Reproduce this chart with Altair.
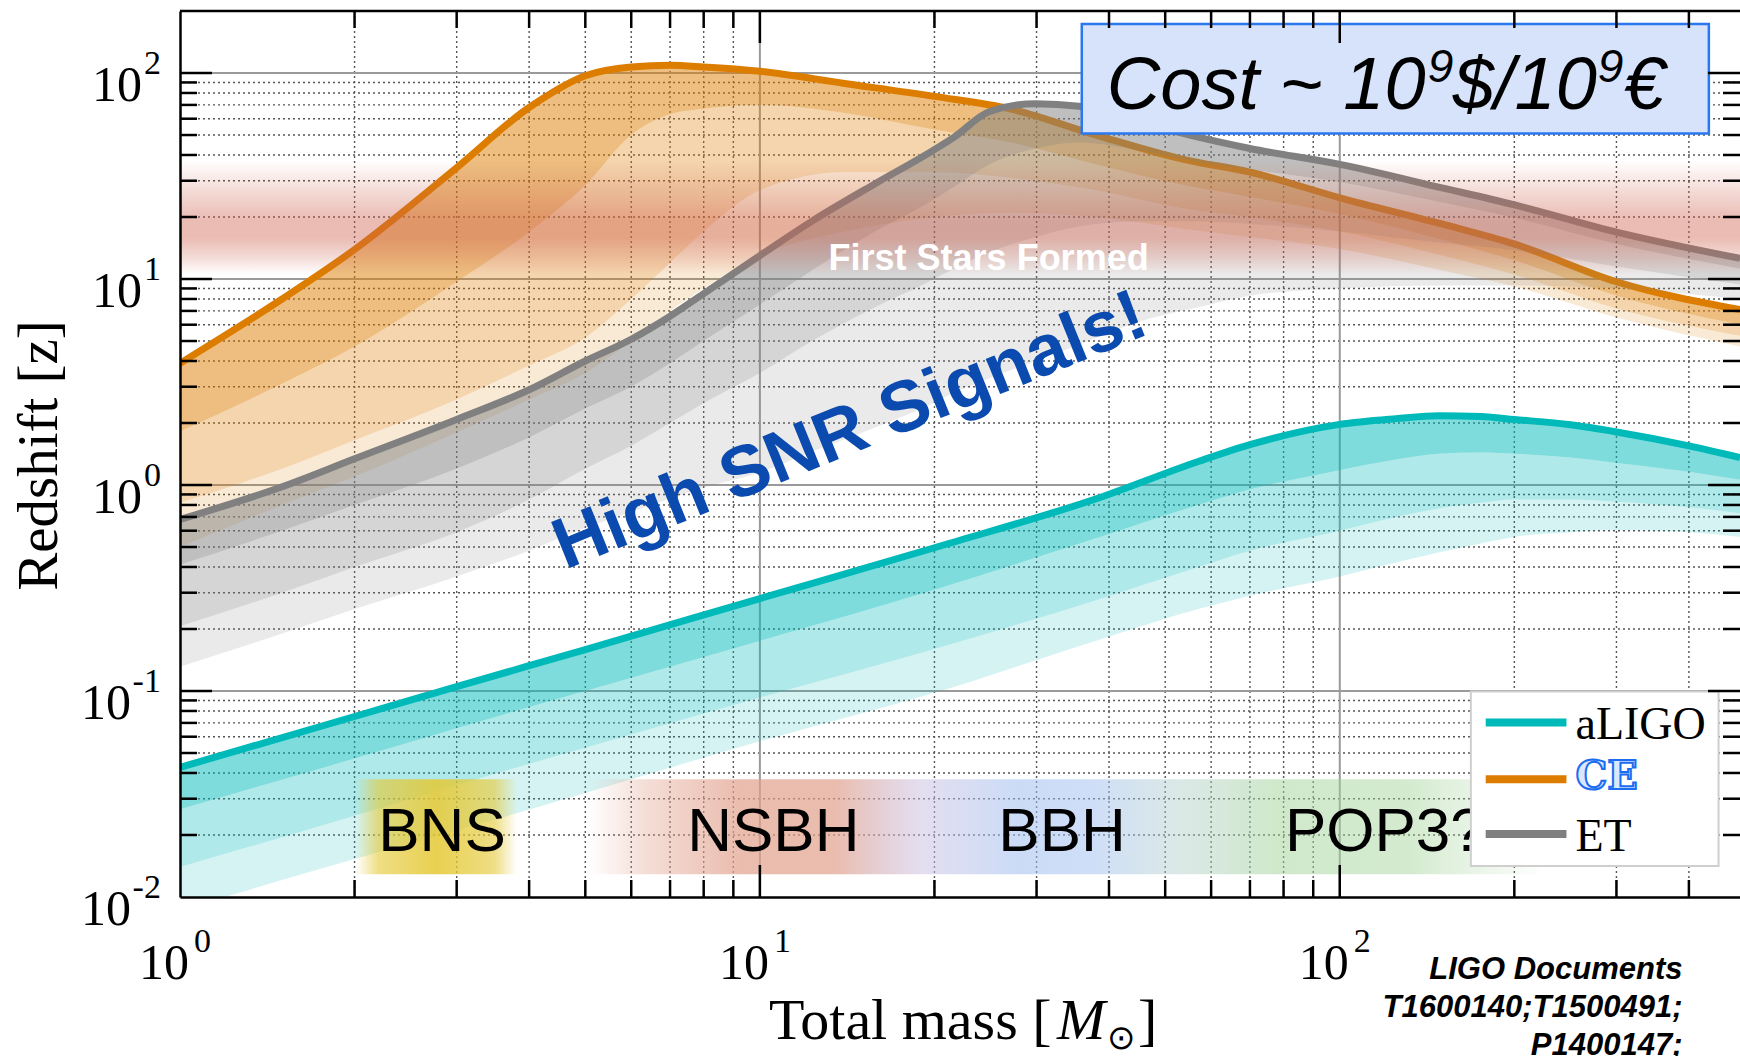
import altair as alt
import pandas as pd

# ---------------- axis ranges ----------------
MASS_RANGE = [1, 490]
Z_RANGE = [0.01, 200]

# ---------------- Cosmic Explorer (CE) ----------------
CE_MASS = [1, 1.5, 2, 3, 4, 5, 6, 7, 8, 10, 14, 20, 27, 38, 54, 70, 100, 150, 200, 300, 490]
CE_LINE = [3.9, 8.0, 13.9, 34.7, 68, 97, 107, 109, 107, 102, 89, 77, 67, 50, 38, 33, 24.8, 18.5, 14.8, 9.7, 7.1]
CE_B1 = [1.82, 3.1, 4.7, 9.7, 16.9, 28.5, 50, 63, 67, 70, 64, 53, 46, 36, 28.5, 25, 20.7, 15.5, 12.3, 8.3, 6.0]
CE_B2 = [0.82, 1.2, 1.65, 2.6, 3.8, 5.2, 8, 12, 17, 27, 33, 33, 31, 27, 22, 20, 17, 13, 10.5, 7.2, 5.3]
CE_B3 = [0.5, 0.8, 1.1, 1.8, 2.6, 3.5, 5, 7, 9, 13, 17, 20, 21, 20, 17.5, 16, 14, 11, 9.2, 6.5, 4.7]

# ---------------- Einstein Telescope (ET) ----------------
ET_MASS = [1, 1.5, 2, 3, 4, 5, 6, 7, 8, 10, 12.3, 15.8, 19.3, 21.6, 24.9, 29.9, 35.5, 45, 57, 70, 100, 150, 200, 300, 490]
ET_LINE = [0.68, 0.98, 1.34, 2.08, 2.9, 4.0, 5.1, 6.6, 8.5, 13.0, 19.1, 29, 40, 48.7, 65, 71, 69, 58, 48.8, 43, 36, 27.7, 22.9, 16.9, 12.6]
ET_B1 = [0.41, 0.6, 0.8, 1.2, 1.7, 2.35, 3.0, 3.9, 5.0, 7.5, 11, 17, 23, 28, 36, 43, 46, 42, 37, 34, 29.5, 23.5, 19.8, 14.8, 11.2]
ET_B2 = [0.206, 0.30, 0.40, 0.59, 0.85, 1.2, 1.55, 2.0, 2.5, 3.5, 5.0, 7.3, 9.5, 11.2, 13.5, 16, 18, 19, 19, 18.5, 17, 15, 13.8, 11.5, 9.4]
ET_B3 = [0.131, 0.19, 0.25, 0.36, 0.48, 0.62, 0.74, 0.86, 0.97, 1.15, 1.45, 1.9, 2.4, 2.8, 3.3, 4.0, 4.8, 6.2, 7.3, 8.3, 9.0, 9.3, 9.3, 9.0, 8.0]

# ---------------- Advanced LIGO ----------------
LIGO_MASS = [1, 2, 3, 5, 10, 20, 38.6, 57, 70, 100, 125, 148, 175, 200, 250, 300, 400, 490]
LIGO_LINE = [0.0426, 0.0752, 0.105, 0.159, 0.281, 0.496, 0.87, 1.3, 1.57, 1.97, 2.1, 2.17, 2.15, 2.08, 1.96, 1.81, 1.55, 1.36]
LIGO_B1 = [0.0267, 0.047, 0.066, 0.1, 0.175, 0.31, 0.56, 0.8, 0.95, 1.18, 1.33, 1.42, 1.44, 1.42, 1.36, 1.28, 1.16, 1.06]
LIGO_B2 = [0.014, 0.0248, 0.035, 0.053, 0.093, 0.16, 0.28, 0.4, 0.48, 0.6, 0.7, 0.77, 0.82, 0.85, 0.85, 0.83, 0.78, 0.73]
LIGO_B3 = [0.0086, 0.0153, 0.021, 0.032, 0.057, 0.098, 0.178, 0.25, 0.29, 0.36, 0.42, 0.47, 0.52, 0.56, 0.59, 0.605, 0.59, 0.56]

# ---------------- ticks / grid / tick labels ----------------
X_LABEL_VALUES = [1, 10, 100]
X_LABEL_EXP = ["0", "1", "2"]
Y_LABEL_VALUES = [0.01, 0.1, 1, 10, 100]
Y_LABEL_EXP = ["-2", "-1", "0", "1", "2"]
X_MAJOR = [10, 100]
X_MINOR = [2, 3, 4, 5, 6, 7, 8, 9, 20, 30, 40, 50, 60, 70, 80, 90, 200, 300, 400]
Y_MAJOR = [0.1, 1, 10, 100]
Y_MINOR = [0.02, 0.03, 0.04, 0.05, 0.06, 0.07, 0.08, 0.09,
           0.2, 0.3, 0.4, 0.5, 0.6, 0.7, 0.8, 0.9,
           2, 3, 4, 5, 6, 7, 8, 9,
           20, 30, 40, 50, 60, 70, 80, 90]
# label anchor positions (data coordinates, outside the plotted range)
X_LABEL_Z = 0.0040        # baseline of the "10"
X_EXP_Z = 0.0054          # baseline of the exponent
Y_LABEL_M_POS = 0.860     # right edge of "10" (positive exponents)
Y_LABEL_M_NEG = 0.823     # right edge of "10" (negative exponents)
Y_EXP_M = 0.927           # right edge of exponent
X_TITLE_POS = [10.364, 0.00205]
Y_TITLE = "Redshift [z]"

# ---------------- annotations ----------------
STARS_Z = [10.5, 37.6]
STARS_TEXT = "First Stars Formed"
STARS_TEXT_POS = [24.8, 11.0]
SNR_TEXT = "High SNR Signals!"
SNR_TEXT_POS = [14.3, 1.83]
COST_BOX = [35.9, 433, 50.8, 173]
COST_TEXT_POS = [39.65, 67.2]
CAT_NAMES = ["BNS", "NSBH", "BBH", "POP3?"]
CAT_MASS = [2.83, 10.55, 33.2, 119.6]
CAT_TEXT_Z = 0.0168
CAT_BAND_Z = [0.0129, 0.0373]
BNS_BAND_M = [2.01, 3.81]
OTHER_BAND_M = [5.05, 225]
REF_LINES = ["LIGO Documents", "T1600140;T1500491;", "P1400147;"]
REF_Z = [0.0040, 0.00262, 0.00171]
REF_M = 390
LEGEND_NAMES = ["aLIGO", "CE", "ET"]
LEGEND_LINE_Z = [0.0704, 0.0373, 0.0202]
LEGEND_TEXT_Z = [0.0582, 0.0333, 0.01667]
LEGEND_LINE_M = [178.5, 246]
LEGEND_TEXT_M = 255
LEGEND_BOX = [168.3, 450, 0.01413, 0.0994]

# ---------------- style ----------------
W, H = 1560, 886
SERIF = "Liberation Serif"
SANS = "Liberation Sans"
C_LIGO = "#00b9b9"
C_CE = "#dc7d00"
C_ET = "#808080"

xs = alt.Scale(type="log", domain=MASS_RANGE, nice=False)
ys = alt.Scale(type="log", domain=Z_RANGE, nice=False)

x_axis = alt.Axis(labels=False, ticks=False, grid=False, domain=True, domainColor="black",
                  domainWidth=2.5, title=None, zindex=2)
y_axis = alt.Axis(labels=False, ticks=False, grid=False, domain=True, domainColor="black",
                  domainWidth=2.5, title=Y_TITLE, titleFont=SERIF, titleFontSize=57,
                  titleFontWeight="normal", titleColor="black", titleAngle=270,
                  titleX=-124, titleY=444, titleAlign="center", titleBaseline="alphabetic", zindex=2)


def X(f):
    return alt.X(f, type="quantitative", scale=xs, axis=x_axis)


def Y(f):
    return alt.Y(f, type="quantitative", scale=ys, axis=y_axis)


def one_text(text, m, z, **style):
    df = pd.DataFrame({"t": [text], "M": [m], "z": [z]})
    return alt.Chart(df).mark_text(**style).encode(x=X("M"), y=Y("z"), text="t:N")


layers = []

# grid
layers.append(alt.Chart(pd.DataFrame({"M": X_MINOR})).mark_rule(
    color="#555555", strokeWidth=1.4, strokeDash=[2, 3]).encode(x=X("M")))
layers.append(alt.Chart(pd.DataFrame({"z": Y_MINOR})).mark_rule(
    color="#555555", strokeWidth=1.4, strokeDash=[2, 3]).encode(y=Y("z")))
layers.append(alt.Chart(pd.DataFrame({"M": X_MAJOR})).mark_rule(
    color="#9a9a9a", strokeWidth=2).encode(x=X("M")))
layers.append(alt.Chart(pd.DataFrame({"z": Y_MAJOR})).mark_rule(
    color="#9a9a9a", strokeWidth=2).encode(y=Y("z")))


def detector(mass, levels, color, opacities):
    out = []
    for k, op in enumerate(opacities):
        df = pd.DataFrame({"M": mass, "hi": levels[k], "lo": levels[k + 1]})
        out.append(alt.Chart(df).mark_area(color=color, opacity=op, interpolate="monotone", clip=True)
                   .encode(x=X("M"), y=Y("lo"), y2="hi:Q"))
    df = pd.DataFrame({"M": mass, "z": levels[0]})
    out.append(alt.Chart(df).mark_line(color=color, strokeWidth=7, interpolate="monotone", clip=True)
               .encode(x=X("M"), y=Y("z")))
    return out


layers += detector(CE_MASS, [CE_LINE, CE_B1, CE_B2, CE_B3], C_CE, [0.5, 0.32, 0.16])
layers += detector(ET_MASS, [ET_LINE, ET_B1, ET_B2, ET_B3], C_ET, [0.5, 0.33, 0.17])
layers += detector(LIGO_MASS, [LIGO_LINE, LIGO_B1, LIGO_B2, LIGO_B3], C_LIGO, [0.5, 0.31, 0.165])

# first-stars band
stars_grad = alt.LinearGradient(gradient="linear", x1=0, x2=0, y1=0, y2=1, stops=[
    alt.GradientStop(color="rgba(205,95,75,0)", offset=0),
    alt.GradientStop(color="rgba(205,95,75,0.25)", offset=0.3),
    alt.GradientStop(color="rgba(205,95,75,0.42)", offset=0.52),
    alt.GradientStop(color="rgba(205,95,75,0.42)", offset=0.68),
    alt.GradientStop(color="rgba(205,95,75,0.22)", offset=0.85),
    alt.GradientStop(color="rgba(205,95,75,0)", offset=1)])
stars_df = pd.DataFrame({"m0": [MASS_RANGE[0]], "m1": [MASS_RANGE[1]], "z0": [STARS_Z[0]], "z1": [STARS_Z[1]]})
layers.append(alt.Chart(stars_df).mark_rect(color=stars_grad, clip=True).encode(
    x=X("m0"), x2="m1:Q", y=Y("z0"), y2="z1:Q"))

# category backgrounds
bns_grad = alt.LinearGradient(gradient="linear", x1=0, x2=1, y1=0, y2=0, stops=[
    alt.GradientStop(color="rgba(228,200,50,0)", offset=0),
    alt.GradientStop(color="rgba(228,200,50,0.6)", offset=0.14),
    alt.GradientStop(color="rgba(228,200,50,0.85)", offset=0.5),
    alt.GradientStop(color="rgba(228,200,50,0.6)", offset=0.86),
    alt.GradientStop(color="rgba(228,200,50,0)", offset=1)])
other_grad = alt.LinearGradient(gradient="linear", x1=0, x2=1, y1=0, y2=0, stops=[
    alt.GradientStop(color="rgba(225,160,140,0)", offset=0),
    alt.GradientStop(color="rgba(225,160,140,0.35)", offset=0.06),
    alt.GradientStop(color="rgba(225,160,140,0.7)", offset=0.16),
    alt.GradientStop(color="rgba(225,160,140,0.7)", offset=0.26),
    alt.GradientStop(color="rgba(200,190,225,0.5)", offset=0.35),
    alt.GradientStop(color="rgba(160,190,240,0.55)", offset=0.45),
    alt.GradientStop(color="rgba(160,190,240,0.5)", offset=0.53),
    alt.GradientStop(color="rgba(175,205,200,0.45)", offset=0.62),
    alt.GradientStop(color="rgba(160,210,150,0.5)", offset=0.72),
    alt.GradientStop(color="rgba(160,210,150,0.45)", offset=0.86),
    alt.GradientStop(color="rgba(160,210,150,0)", offset=1)])
for band_m, grad in [(BNS_BAND_M, bns_grad), (OTHER_BAND_M, other_grad)]:
    df = pd.DataFrame({"m0": [band_m[0]], "m1": [band_m[1]], "z0": [CAT_BAND_Z[0]], "z1": [CAT_BAND_Z[1]]})
    layers.append(alt.Chart(df).mark_rect(color=grad).encode(x=X("m0"), x2="m1:Q", y=Y("z0"), y2="z1:Q"))

cat_df = pd.DataFrame({"name": CAT_NAMES, "M": CAT_MASS, "z": [CAT_TEXT_Z] * len(CAT_NAMES)})
layers.append(alt.Chart(cat_df).mark_text(font=SANS, fontSize=62, color="black", align="center",
                                          baseline="alphabetic").encode(x=X("M"), y=Y("z"), text="name:N"))

# texts
layers.append(one_text(STARS_TEXT, *STARS_TEXT_POS, font=SANS, fontSize=36, fontWeight="bold",
                       color="white", align="center", baseline="alphabetic"))
layers.append(one_text(SNR_TEXT, *SNR_TEXT_POS, font=SANS, fontSize=72, fontWeight="bold",
                       color="#0b4aae", align="center", baseline="middle", angle=338))

# cost box
cost_df = pd.DataFrame({"m0": [COST_BOX[0]], "m1": [COST_BOX[1]], "z0": [COST_BOX[2]], "z1": [COST_BOX[3]]})
layers.append(alt.Chart(cost_df).mark_rect(fill="#d7e3fa", stroke="#2a78f0", strokeWidth=2.5)
              .encode(x=X("m0"), x2="m1:Q", y=Y("z0"), y2="z1:Q"))
cost_pieces = [("Cost ~ 10", 0, 0, 74), ("9", 321, -27, 46), ("$/10", 346, 0, 74),
               ("9", 491, -27, 46), ("€", 517, 0, 74)]
for txt, dx, dy, fs in cost_pieces:
    layers.append(one_text(txt, *COST_TEXT_POS, font=SANS, fontSize=fs, fontStyle="italic",
                           color="black", align="left", baseline="alphabetic", dx=dx, dy=dy))

# tick labels: 10 with raised exponent
xl = pd.DataFrame({"M": X_LABEL_VALUES, "e": X_LABEL_EXP, "z10": [X_LABEL_Z] * 3, "ze": [X_EXP_Z] * 3})
layers.append(alt.Chart(xl).mark_text(text="10", font=SERIF, fontSize=50, color="black", align="right",
                                      baseline="alphabetic", dx=9).encode(x=X("M"), y=Y("z10")))
layers.append(alt.Chart(xl).mark_text(font=SERIF, fontSize=34, color="black", align="left",
                                      baseline="alphabetic", dx=14).encode(x=X("M"), y=Y("ze"), text="e:N"))
yl = pd.DataFrame({"z": Y_LABEL_VALUES, "e": Y_LABEL_EXP,
                   "m10": [Y_LABEL_M_NEG if e.startswith("-") else Y_LABEL_M_POS for e in Y_LABEL_EXP],
                   "me": [Y_EXP_M] * 5})
layers.append(alt.Chart(yl).mark_text(text="10", font=SERIF, fontSize=50, color="black", align="right",
                                      baseline="alphabetic", dy=28).encode(x=X("m10"), y=Y("z")))
layers.append(alt.Chart(yl).mark_text(font=SERIF, fontSize=34, color="black", align="right",
                                      baseline="alphabetic", dy=1).encode(x=X("me"), y=Y("z"), text="e:N"))

# x-axis title: Total mass [M_sun]
title_pieces = [("Total mass [", 0, 0, 58, "normal"), ("M", 288, 0, 58, "italic"),
                ("⊙", 338, 10, 34, "normal"), ("]", 369, 0, 58, "normal")]
for txt, dx, dy, fs, st in title_pieces:
    layers.append(one_text(txt, *X_TITLE_POS, font=SERIF, fontSize=fs, fontStyle=st, color="black",
                           align="left", baseline="alphabetic", dx=dx, dy=dy))

# references text (below axis)
ref_df = pd.DataFrame({"t": REF_LINES, "M": [REF_M] * 3, "z": REF_Z})
layers.append(alt.Chart(ref_df).mark_text(font=SANS, fontSize=31, fontWeight="bold", fontStyle="italic",
                                          color="black", align="right", baseline="alphabetic")
              .encode(x=X("M"), y=Y("z"), text="t:N"))

# legend
leg_box = pd.DataFrame({"m0": [LEGEND_BOX[0]], "m1": [LEGEND_BOX[1]], "z0": [LEGEND_BOX[2]], "z1": [LEGEND_BOX[3]]})
layers.append(alt.Chart(leg_box).mark_rect(fill="white", stroke="#cfcfcf", strokeWidth=2)
              .encode(x=X("m0"), x2="m1:Q", y=Y("z0"), y2="z1:Q"))
for name, lz, tz, col in zip(LEGEND_NAMES, LEGEND_LINE_Z, LEGEND_TEXT_Z, [C_LIGO, C_CE, C_ET]):
    ldf = pd.DataFrame({"m0": [LEGEND_LINE_M[0]], "m1": [LEGEND_LINE_M[1]], "z": [lz]})
    layers.append(alt.Chart(ldf).mark_rule(color=col, strokeWidth=8)
                  .encode(x=X("m0"), x2="m1:Q", y=Y("z")))
    if name == "CE":
        layers.append(one_text(name, LEGEND_TEXT_M, tz, font="DejaVu Serif", fontSize=40, fontWeight="bold",
                               fill="#dbe6ff", stroke="#1a6cf0", strokeWidth=2, align="left",
                               baseline="alphabetic"))
    else:
        layers.append(one_text(name, LEGEND_TEXT_M, tz, font=SERIF, fontSize=46, color="black",
                               align="left", baseline="alphabetic"))


# inward ticks and frame
def xticks(values, length):
    df = pd.DataFrame({"M": values})
    base = alt.Chart(df).mark_rule(color="black", strokeWidth=2.5)
    return [base.encode(x=X("M"), y=alt.value(H), y2=alt.value(H - length)),
            base.encode(x=X("M"), y=alt.value(0), y2=alt.value(length))]


def yticks(values, length):
    df = pd.DataFrame({"z": values})
    base = alt.Chart(df).mark_rule(color="black", strokeWidth=2.5)
    return [base.encode(y=Y("z"), x=alt.value(0), x2=alt.value(length)),
            base.encode(y=Y("z"), x=alt.value(W - length), x2=alt.value(W))]


layers += xticks(X_MINOR, 17) + xticks(X_MAJOR, 32)
layers += yticks(Y_MINOR, 17) + yticks(Y_MAJOR, 32)
layers.append(alt.Chart(pd.DataFrame({"a": [0]})).mark_rule(color="black", strokeWidth=2.5)
              .encode(x=alt.value(0), x2=alt.value(W), y=alt.value(0)))

chart = alt.layer(*layers).properties(
    width=W, height=H,
    autosize=alt.AutoSizeParams(type="none"),
    padding={"left": 180, "top": 11, "right": 0, "bottom": 159},
    background="white",
).configure_view(stroke=None)

chart.save("out.html", embed_options={"renderer": "svg", "actions": False})
